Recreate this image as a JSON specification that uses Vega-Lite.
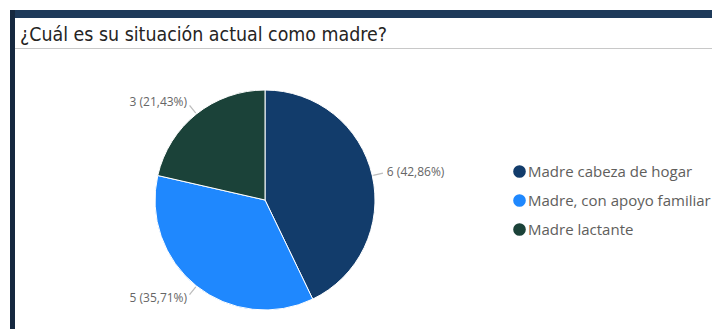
{
  "$schema": "https://vega.github.io/schema/vega-lite/v6.json",
  "background": "white",
  "padding": {"left": 10, "top": 10, "right": 0, "bottom": 0},
  "spacing": 0,
  "config": {"view": {"stroke": null}, "font": "Open Sans"},
  "datasets": {
    "madres": [
      {"situacion": "Madre cabeza de hogar", "valor": 6},
      {"situacion": "Madre, con apoyo familiar", "valor": 5},
      {"situacion": "Madre lactante", "valor": 3}
    ],
    "blank": [{}]
  },
  "hconcat": [
    {
      "width": 5, "height": 319,
      "view": {"fill": "#15283f", "stroke": null},
      "data": {"name": "blank"},
      "mark": {"type": "text", "fontSize": 0},
      "encoding": {"text": {"value": ""}}
    },
    {
      "spacing": 6,
      "vconcat": [
        {
          "width": 697, "height": 8,
          "view": {"fill": "#1e3a5a", "stroke": null},
          "data": {"name": "blank"},
          "mark": {"type": "text", "fontSize": 0},
          "encoding": {"text": {"value": ""}}
        },
        {
          "spacing": 24,
          "vconcat": [
            {
              "width": 697, "height": 1,
              "view": {"fill": "#c8c8c8", "stroke": null},
              "title": {
                "text": "¿Cuál es su situación actual como madre?",
                "anchor": "start", "frame": "group",
                "font": "DejaVu Sans Condensed", "fontSize": 19.4, "fontWeight": "normal",
                "color": "#252423", "offset": 3, "dx": 5
              },
              "data": {"name": "blank"},
              "mark": {"type": "text", "fontSize": 0},
              "encoding": {"text": {"value": ""}}
            },
            {
              "width": 500, "height": 254,
              "data": {"name": "madres"},
              "transform": [
                {"joinaggregate": [{"op": "sum", "field": "valor", "as": "total"}]},
                {"window": [{"op": "sum", "field": "valor", "as": "acum"}], "sort": [{"field": "valor", "order": "descending"}], "frame": [null, 0]},
                {"calculate": "datum.acum - datum.valor / 2", "as": "medio"},
                {"calculate": "datum.medio - 0.012", "as": "m0"},
                {"calculate": "datum.medio + 0.012", "as": "m1"},
                {"calculate": "datum.valor + ' (' + replace(format(datum.valor / datum.total, '.2%'), '.', ',') + ')'", "as": "etiqueta"}
              ],
              "layer": [
                {
                  "mark": {"type": "arc", "outerRadius": 110, "stroke": "#ffffff", "strokeWidth": 1},
                  "encoding": {
                    "theta": {"field": "valor", "type": "quantitative", "stack": true},
                    "order": {"field": "valor", "type": "quantitative", "sort": "descending"},
                    "color": {
                      "field": "situacion", "type": "nominal",
                      "scale": {
                        "domain": ["Madre cabeza de hogar", "Madre, con apoyo familiar", "Madre lactante"],
                        "range": ["#123c6b", "#1f88fe", "#1b4239"]
                      },
                      "legend": {
                        "title": null, "orient": "none", "legendX": 502, "legendY": 154,
                        "symbolType": "circle", "symbolSize": 160, "symbolStrokeWidth": 0,
                        "labelFont": "Open Sans", "labelFontSize": 15, "labelColor": "#605e5c",
                        "labelLimit": 300,
                        "rowPadding": 13, "labelOffset": 1, "padding": 0, "symbolOpacity": 1
                      }
                    }
                  }
                },
                {
                  "mark": {"type": "arc", "innerRadius": 111, "outerRadius": 121, "color": "#bdbdbd"},
                  "encoding": {
                    "theta": {"field": "m0", "type": "quantitative"},
                    "theta2": {"field": "m1"}
                  }
                },
                {
                  "transform": [{"filter": "datum.medio < 7"}],
                  "mark": {"type": "text", "radius": 125, "align": "left", "baseline": "middle", "font": "Open Sans", "fontSize": 12, "color": "#666666"},
                  "encoding": {
                    "theta": {"field": "medio", "type": "quantitative"},
                    "text": {"field": "etiqueta"}
                  }
                },
                {
                  "transform": [{"filter": "datum.medio >= 7"}],
                  "mark": {"type": "text", "radius": 125, "align": "right", "baseline": "middle", "font": "Open Sans", "fontSize": 12, "color": "#666666"},
                  "encoding": {
                    "theta": {"field": "medio", "type": "quantitative"},
                    "text": {"field": "etiqueta"}
                  }
                }
              ]
            }
          ]
        }
      ]
    }
  ]
}
